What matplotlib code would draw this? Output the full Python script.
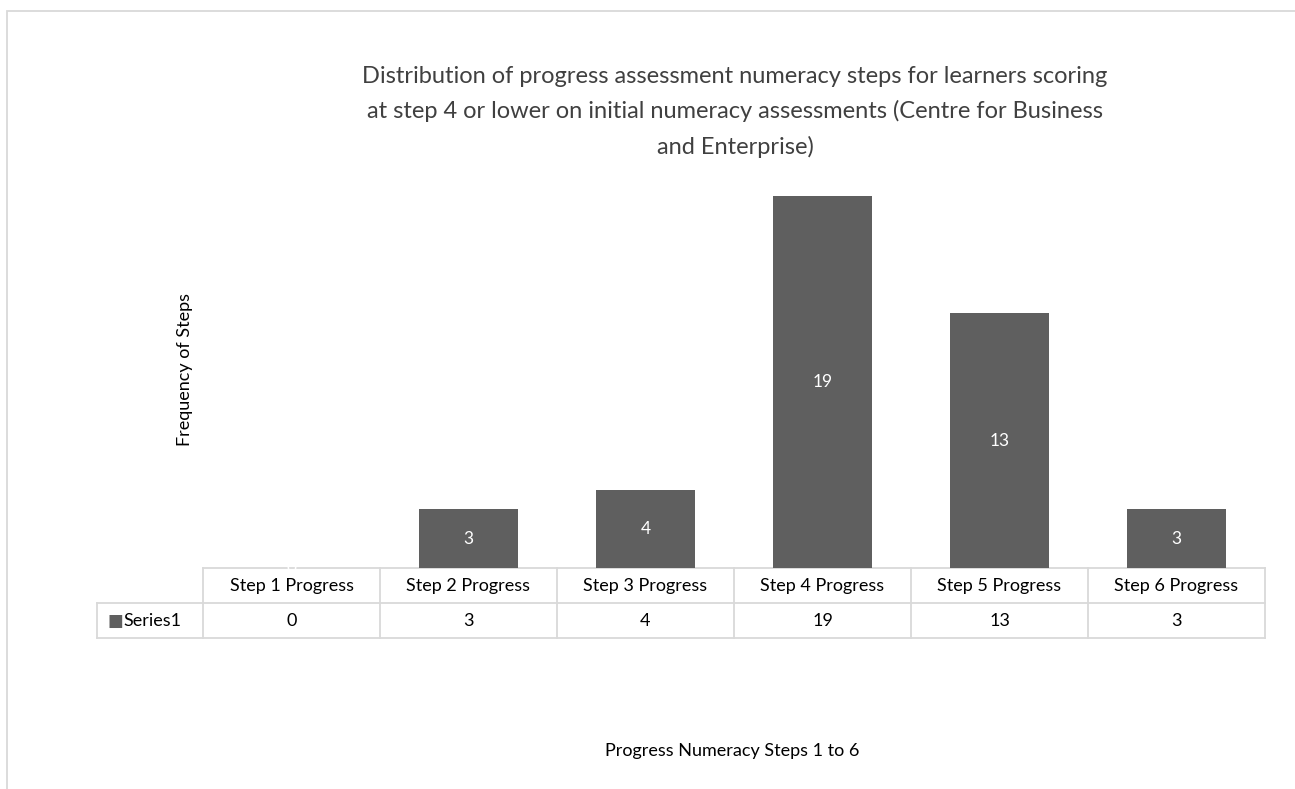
import numpy as np
import matplotlib
matplotlib.use("Agg")
import matplotlib.pyplot as plt
from matplotlib.transforms import blended_transform_factory
from matplotlib.patches import Rectangle

categories = ["Step 1 Progress", "Step 2 Progress", "Step 3 Progress",
              "Step 4 Progress", "Step 5 Progress", "Step 6 Progress"]
values = [0, 3, 4, 19, 13, 3]
series_name = "Series1"

BAR = "#5F5F5F"
GRID = "#D9D9D9"
TEXT = "#000000"

plt.rcParams["font.family"] = ["Lato", "DejaVu Sans"]

W, H = 1295, 789
fig = plt.figure(figsize=(W / 100, H / 100), dpi=100)

# outer chart border (runs off the right and bottom edge)
fig.add_artist(Rectangle((6.5 / W, -0.05), 1.2, 1 - 10.5 / H + 0.05,
                         transform=fig.transFigure, fill=False,
                         edgecolor=GRID, lw=1.3))

ax = fig.add_axes([203 / W, 1 - 568 / H, (1265 - 203) / W, (568 - 176) / H])
x = np.arange(len(categories))
bars = ax.bar(x, values, width=0.56, color=BAR, zorder=2)
for xi, v in zip(x, values):
    ax.text(xi, v / 2, str(v), ha="center", va="center", color="white",
            fontsize=12.5, zorder=4, clip_on=False)
ax.set_xlim(-0.5, len(categories) - 0.5)
ax.set_ylim(0, 20)
ax.axis("off")

# data table under the plot
tr = blended_transform_factory(ax.transData, ax.transAxes)
row_h = 35 / (568 - 176)
left = -0.5 - (203 - 97) / ((1265 - 203) / len(categories))
right = len(categories) - 0.5
kw = dict(transform=tr, color=GRID, lw=1.3, clip_on=False, zorder=1)
ax.plot([-0.5, right], [0, 0], **kw)
ax.plot([left, right], [-row_h, -row_h], **kw)
ax.plot([left, right], [-2 * row_h, -2 * row_h], **kw)
ax.plot([left, left], [-row_h, -2 * row_h], **kw)
for i in range(len(categories) + 1):
    ax.plot([i - 0.5, i - 0.5], [0, -2 * row_h], **kw)
for xi, cat, v in zip(x, categories, values):
    ax.text(xi, -row_h / 2, cat, transform=tr, ha="center", va="center",
            fontsize=13, color=TEXT)
    ax.text(xi, -1.5 * row_h, str(v), transform=tr, ha="center", va="center",
            fontsize=13, color=TEXT)
ax.text(left + 0.06, -1.5 * row_h, "■", transform=tr, ha="left", va="center",
        fontsize=12, color=BAR, family=["DejaVu Sans"])
ax.text(left + 0.15, -1.5 * row_h, series_name, transform=tr, ha="left",
        va="center", fontsize=13, color=TEXT)

fig.text(735 / W, 1 - 112 / H,
         "Distribution of progress assessment numeracy steps for learners scoring\n"
         "at step 4 or lower on initial numeracy assessments (Centre for Business\n"
         "and Enterprise)",
         ha="center", va="center", fontsize=17, color="#404040",
         linespacing=1.72)
fig.text(185 / W, 1 - 370 / H, "Frequency of Steps", rotation=90,
         ha="center", va="center", fontsize=13, color=TEXT)
fig.text(732 / W, 1 - 751 / H, "Progress Numeracy Steps 1 to 6",
         ha="center", va="center", fontsize=13, color=TEXT)

fig.savefig("out.png", dpi=100)
